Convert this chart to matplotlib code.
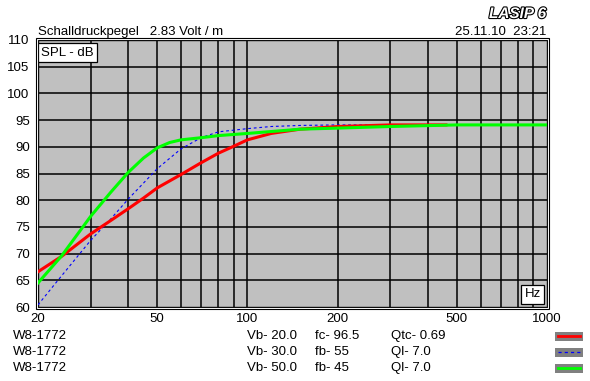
import matplotlib
matplotlib.use("Agg")
import matplotlib.pyplot as plt
from matplotlib.patches import Rectangle
from matplotlib.lines import Line2D
import matplotlib.patheffects as pe

plt.rcParams['font.family'] = ['Liberation Sans', 'DejaVu Sans']

# data
f_red = [20, 24, 30, 35, 40, 45, 50, 60, 70, 80, 90, 100, 120, 150, 200, 300, 460]
db_red = [66.6, 69.5, 73.7, 76.2, 78.4, 80.4, 82.3, 84.8, 87.0, 88.8, 90.1, 91.3,
          92.5, 93.3, 93.8, 94.1, 94.1]
f_blue = [20, 23, 30, 35, 40, 50, 60, 70, 80, 100, 120, 150, 200, 300]
db_blue = [60.4, 64.6, 72.5, 76.5, 80.2, 85.9, 89.6, 91.7, 92.8, 93.4, 93.8, 94.0,
           94.1, 94.1]
f_green = [20, 24, 30, 35, 40, 45, 50, 55, 60, 70, 80, 100, 150, 200, 300, 500, 1000]
db_green = [64.5, 69.6, 77.0, 81.5, 85.2, 87.9, 89.8, 90.8, 91.3, 91.7, 92.1, 92.5,
            93.3, 93.5, 93.8, 94.1, 94.1]

x_ticks = [20, 50, 100, 200, 500, 1000]
x_grid = [30, 40, 50, 60, 70, 80, 90, 100, 200, 300, 400, 500, 600, 700, 800, 900]
y_ticks = list(range(60, 111, 5))

names = ['W8-1772', 'W8-1772', 'W8-1772']
vb = ['Vb- 20.0', 'Vb- 30.0', 'Vb- 50.0']
tune = ['fc- 96.5', 'fb- 55', 'fb- 45']
qual = ['Qtc- 0.69', 'Ql- 7.0', 'Ql- 7.0']

W, H = 590, 381
fig = plt.figure(figsize=(W / 100, H / 100), dpi=100)
fig.patch.set_facecolor('white')


def fx(px):
    return px / W


def fy(py):
    return 1 - py / H


ax = fig.add_axes([fx(38), fy(307), fx(547) - fx(38), fy(40) - fy(307)])
ax.set_facecolor('#c0c0c0')
ax.set_xscale('log')
ax.set_xlim(20, 1000)
ax.set_ylim(60, 110)

for xv in x_grid:
    ax.axvline(xv, color='black', lw=1.1, zorder=1)
for yv in y_ticks[1:-1]:
    ax.axhline(yv, color='black', lw=1.1, zorder=1)

ax.plot(f_blue, db_blue, color='#0000ff', lw=0.8, ls=(0, (2.5, 2.5)), zorder=3)
ax.plot(f_red, db_red, color='#ff0000', lw=2.2, zorder=4)
ax.plot(f_green, db_green, color='#00ff00', lw=2.2, zorder=5)

ax.set_xticks(x_ticks)
ax.set_xticklabels([str(v) for v in x_ticks])
ax.xaxis.set_minor_locator(matplotlib.ticker.NullLocator())
ax.set_yticks(y_ticks)
ax.tick_params(length=0, labelsize=9.5, pad=4)
ax.tick_params(axis='y', pad=6)
for s in ax.spines.values():
    s.set_color('black')
    s.set_linewidth(1.0)

# double frame around the plot
fig.patches.append(Rectangle((fx(37), fy(308)), fx(548) - fx(37), fy(39) - fy(308),
                             transform=fig.transFigure, fill=False,
                             edgecolor='white', lw=0.8))
fig.patches.append(Rectangle((fx(36), fy(309)), fx(549) - fx(36), fy(38) - fy(309),
                             transform=fig.transFigure, fill=False,
                             edgecolor='black', lw=0.8))

# labels inside the plot
ax.text(0.006, 0.975, 'SPL - dB', transform=ax.transAxes, ha='left', va='top',
        fontsize=9.5, zorder=6,
        bbox=dict(boxstyle='square,pad=0.25', fc='white', ec='black', lw=0.9))
ax.text(0.988, 0.025, 'Hz', transform=ax.transAxes, ha='right', va='bottom',
        fontsize=9.5, zorder=6,
        bbox=dict(boxstyle='square,pad=0.25', fc='white', ec='black', lw=0.9))

# header
fig.text(fx(38), fy(32), 'Schalldruckpegel   2.83 Volt / m', fontsize=9.5,
         ha='left', va='center')
fig.text(fx(546), fy(32), '25.11.10  23:21', fontsize=9.5, ha='right', va='center')
fig.text(fx(546), fy(14), 'LASIP 6', fontsize=11, fontweight='bold', style='italic',
         ha='right', va='center', color='white',
         path_effects=[pe.withStroke(linewidth=1.6, foreground='black')])

# legend rows
row_y = [336, 352, 368]
styles = [dict(color='#ff0000', lw=2.0, ls='-'),
          dict(color='#0000ff', lw=0.9, ls=(0, (2.5, 2.5))),
          dict(color='#00ff00', lw=2.0, ls='-')]
for i, yy in enumerate(row_y):
    fig.text(fx(13), fy(yy), names[i], fontsize=9.5, ha='left', va='center')
    fig.text(fx(247), fy(yy), vb[i], fontsize=9.5, ha='left', va='center')
    fig.text(fx(315), fy(yy), tune[i], fontsize=9.5, ha='left', va='center')
    fig.text(fx(391), fy(yy), qual[i], fontsize=9.5, ha='left', va='center')
    fig.patches.append(Rectangle((fx(555), fy(yy + 4.5)), fx(583) - fx(555), fy(yy - 4.5) - fy(yy + 4.5),
                                 transform=fig.transFigure, fc='#808080', ec='none'))
    fig.lines.append(Line2D([fx(558), fx(580)], [fy(yy - 0.5), fy(yy - 0.5)],
                            transform=fig.transFigure, **styles[i]))

fig.savefig('out.png', dpi=100, facecolor='white')
